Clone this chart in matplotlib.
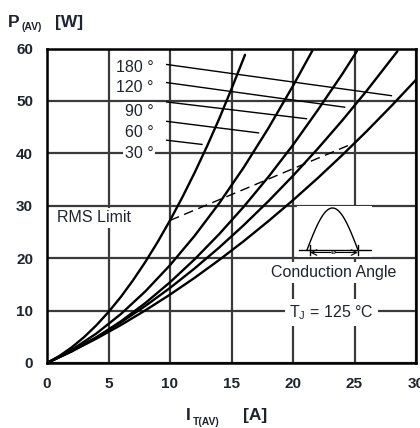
import numpy as np
import matplotlib
matplotlib.use("Agg")
import matplotlib.pyplot as plt

plt.rcParams['font.family'] = ['Liberation Sans', 'DejaVu Sans']

TXT = '#1f2430'

# ---- data ----
I_30 = [0, 1, 2, 3, 4, 5, 6, 7, 8, 9, 10, 11, 12, 13, 14, 15, 16.1]
P_30 = [0, 1.33, 2.97, 4.91, 7.16, 9.73, 12.6, 15.8, 19.3, 23.1, 27.2, 31.6, 36.3, 41.3, 46.6, 52.3, 58.8]

I_60 = [0, 2, 4, 6, 8, 10, 12, 14, 16, 18, 20, 21.65]
P_60 = [0, 2.49, 5.60, 9.33, 13.68, 18.66, 24.26, 30.48, 37.33, 44.8, 52.88, 59.9]

I_90 = [0, 2, 4, 6, 8, 10, 12, 14, 16, 18, 20, 22, 24, 25.2]
P_90 = [0, 2.21, 4.86, 7.94, 11.45, 15.4, 19.78, 24.59, 29.83, 35.5, 41.6, 48.2, 55.1, 59.5]

I_120 = [0, 2, 4, 6, 8, 10, 12, 14, 16, 18, 20, 22, 24, 26, 28.5]
P_120 = [0, 2.30, 4.88, 7.74, 10.89, 14.32, 18.04, 22.03, 26.31, 30.87, 35.72, 40.85, 46.26, 51.96, 59.5]

I_180 = [0, 2, 4, 6, 8, 10, 12, 14, 16, 18, 20, 22, 24, 26, 28, 30]
P_180 = [0, 2.21, 4.63, 7.23, 10.05, 13.05, 16.25, 19.66, 23.26, 27.07, 31.06, 35.25, 39.65, 44.24, 49.04, 54.03]

rms_I = [10.0, 24.8]
rms_P = [27.2, 41.8]

angle_labels = ['180 °', '120 °', '90 °', '60 °', '30 °']
label_y = [56.4, 52.5, 48.0, 44.0, 39.9]
leader_x0 = [9.73, 9.73, 9.73, 9.73, 9.73]
leader_y0 = [56.95, 53.5, 49.8, 46.1, 42.5]
leader_x1 = [28.0, 24.2, 21.1, 17.2, 12.6]
leader_y1 = [51.0, 48.8, 46.6, 43.9, 41.7]

x_ticks = [0, 5, 10, 15, 20, 25, 30]
y_ticks = [0, 10, 20, 30, 40, 50, 60]

# ---- figure ----
W, H = 420, 428
fig = plt.figure(figsize=(W / 100, H / 100), dpi=100)
fig.patch.set_facecolor('white')

def fx(px):
    return px / W

def fy(py):
    return 1 - py / H

ax = fig.add_axes([fx(47), fy(363), fx(416) - fx(47), fy(48.5) - fy(363)])
ax.set_xlim(0, 30)
ax.set_ylim(0, 60)
ax.set_xticks(x_ticks)
ax.set_yticks(y_ticks)
ax.tick_params(length=0, pad=10, labelsize=11, labelcolor=TXT)
for lab in ax.get_xticklabels() + ax.get_yticklabels():
    lab.set_fontweight('bold')
ax.set_axisbelow(True)
ax.grid(True, color='#3a3a3a', lw=1.6)
for s in ax.spines.values():
    s.set_linewidth(1.8)
    s.set_color('black')

for I, P in [(I_30, P_30), (I_60, P_60), (I_90, P_90), (I_120, P_120), (I_180, P_180)]:
    ax.plot(I, P, color='black', lw=1.7, solid_capstyle='round', solid_joinstyle='round', zorder=4)

ax.plot(rms_I, rms_P, color='black', lw=1.0, dashes=(7, 4), zorder=4)

for lab, ly, x0, y0, x1, y1 in zip(angle_labels, label_y, leader_x0, leader_y0, leader_x1, leader_y1):
    ax.plot([x0, x1], [y0, y1], color='black', lw=1.0, zorder=4)
    ax.text(8.65, ly, lab, ha='right', va='center', fontsize=11.5, color=TXT,
            bbox=dict(facecolor='white', edgecolor='none', pad=1.5), zorder=3)

ax.text(0.8, 27.7, 'RMS Limit', ha='left', va='center', fontsize=11.5, color=TXT,
        bbox=dict(facecolor='white', edgecolor='none', pad=2), zorder=3)
ax.text(23.3, 17.3, 'Conduction Angle', ha='center', va='center', fontsize=11.5, color=TXT,
        bbox=dict(facecolor='white', edgecolor='none', pad=2), zorder=3)
ax.text(23.1, 9.7, r'T$_\mathregular{J}$ = 125 °C', ha='center', va='center', fontsize=11.5,
        color=TXT, bbox=dict(facecolor='white', edgecolor='none', pad=3), zorder=3)

# inset waveform (pixel coordinates)
ia = fig.add_axes([fx(297), fy(257), fx(372) - fx(297), fy(206) - fy(257)])
ia.set_xlim(297, 372)
ia.set_ylim(257, 206)
ia.set_facecolor('white')
ia.set_xticks([])
ia.set_yticks([])
for s in ia.spines.values():
    s.set_visible(False)
u = np.linspace(0, np.pi, 60)
ia.plot(307 + (358 - 307) * u / np.pi, 250 - 42 * np.sin(u), color='black', lw=1.0)
ia.plot([299, 372], [250, 250], color='black', lw=1.0)
ia.plot([310, 310], [245, 255], color='black', lw=1.0)
ia.plot([358, 358], [245, 255], color='black', lw=1.0)
ia.annotate('', xy=(310, 252.5), xytext=(331, 252.5),
            arrowprops=dict(arrowstyle='->', lw=0.8, color='black', shrinkA=0, shrinkB=0))
ia.annotate('', xy=(358, 252.5), xytext=(335, 252.5),
            arrowprops=dict(arrowstyle='->', lw=0.8, color='black', shrinkA=0, shrinkB=0))
ia.text(333, 252, 'ø', ha='center', va='center', fontsize=6, color='black')

# axis titles
fig.text(fx(8), fy(27), 'P', fontsize=12.5, fontweight='bold', color=TXT, va='baseline')
fig.text(fx(21), fy(30), '(AV)', fontsize=7.5, fontweight='bold', color=TXT, va='baseline')
fig.text(fx(55), fy(27), '[W]', fontsize=12.5, fontweight='bold', color=TXT, va='baseline')

fig.text(fx(186), fy(420), 'I', fontsize=12.5, fontweight='bold', color=TXT, va='baseline')
fig.text(fx(193), fy(425), 'T(AV)', fontsize=7.5, fontweight='bold', color=TXT, va='baseline')
fig.text(fx(243), fy(420), '[A]', fontsize=12.5, fontweight='bold', color=TXT, va='baseline')

fig.savefig('out.png', dpi=100, facecolor='white')
